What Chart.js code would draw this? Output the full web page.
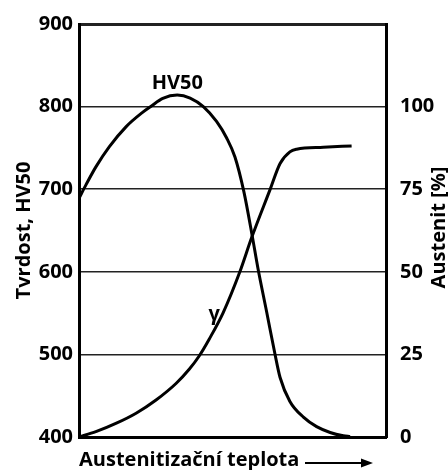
<!DOCTYPE html>
<html>
<head>
<meta charset="utf-8">
<script src="https://cdn.jsdelivr.net/npm/chart.js@4/dist/chart.umd.min.js"></script>
<style>
  html, body { margin: 0; padding: 0; background: #fff; }
  #wrap { width: 448px; height: 470px; }
</style>
</head>
<body>
<div id="wrap"><canvas id="chart" width="448" height="470"></canvas></div>
<script>
// hardness curve (left axis) - x is relative temperature 0..100
const hvX = [0, 2.3, 5.5, 9.9, 15.3, 20.7, 23.5, 27.3, 32, 36.2, 40.5, 44.8, 48.1, 50.8, 53.7, 56.4, 58.3, 61.1, 63.8, 65.5, 68.7, 73.1, 77.4, 81.8, 86.1, 88.3];
const hvY = [689, 705.5, 727, 751.5, 775.5, 793, 800.5, 810, 814, 810.4, 800, 782, 762, 739, 697, 644, 604, 552, 501, 472, 443, 424, 412.5, 405.5, 401.5, 400.5];

// austenite curve (right axis, %)
const gX = [0, 5.5, 12, 18.6, 25.1, 31.6, 35.9, 39.2, 42.4, 46.9, 52.4, 56.3, 62.2, 65.5, 68.7, 70.9, 79.6, 88.8];
const gY = [0, 1.6, 4.1, 7.2, 11.2, 16.2, 20.5, 24.6, 29.6, 37.5, 50, 60.5, 74.8, 82.8, 86.3, 87.1, 87.7, 88.1];

const leftTicks = [400, 500, 600, 700, 800, 900];
const rightTicks = [0, 25, 50, 75, 100];

const FONT = "'Open Sans', sans-serif";
const SIZE = 20;

// curve labels, right axis title (reads upwards) and the arrow after the x title
const extras = {
  id: 'extras',
  afterDraw(chart) {
    const c = chart.ctx;
    const xs = chart.scales.x, yl = chart.scales.y, yr = chart.scales.y2;
    c.save();
    c.fillStyle = '#000';
    c.font = 'bold ' + SIZE + 'px ' + FONT;
    c.textAlign = 'center';
    c.textBaseline = 'middle';
    c.fillText('HV50', xs.getPixelForValue(32), yl.getPixelForValue(828));
    c.fillText('γ', xs.getPixelForValue(44), yr.getPixelForValue(37));

    c.save();
    c.translate(439, (chart.chartArea.top + chart.chartArea.bottom) / 2 - 3);
    c.rotate(-Math.PI / 2);
    c.fillText('Austenit [%]', 0, 0);
    c.restore();

    // arrow
    const y = 463;
    c.strokeStyle = '#000';
    c.lineWidth = 2;
    c.beginPath();
    c.moveTo(305, y);
    c.lineTo(366, y);
    c.stroke();
    c.beginPath();
    c.moveTo(373, y);
    c.lineTo(361, y - 4.5);
    c.lineTo(361, y + 4.5);
    c.closePath();
    c.fill();
    c.restore();
  }
};

new Chart(document.getElementById('chart'), {
  type: 'line',
  data: {
    datasets: [{
      label: 'HV50',
      data: hvX.map((x, i) => ({ x: x, y: hvY[i] })),
      yAxisID: 'y',
      borderColor: '#000',
      borderWidth: 3,
      pointRadius: 0,
      cubicInterpolationMode: 'monotone'
    }, {
      label: 'γ',
      data: gX.map((x, i) => ({ x: x, y: gY[i] })),
      yAxisID: 'y2',
      borderColor: '#000',
      borderWidth: 3,
      pointRadius: 0,
      cubicInterpolationMode: 'monotone'
    }]
  },
  options: {
    responsive: false,
    animation: false,
    layout: { padding: { top: 24, left: 0, right: 0, bottom: 0 } },
    plugins: {
      legend: { display: false },
      tooltip: { enabled: false }
    },
    scales: {
      x: {
        type: 'linear',
        min: 0,
        max: 100,
        grid: { display: false },
        ticks: { display: false },
        border: { color: '#000', width: 3 },
        title: {
          display: true,
          text: 'Austenitizační teplota',
          align: 'start',
          color: '#000',
          font: { family: FONT, size: SIZE, weight: 'bold' },
          padding: { top: 0, bottom: -2 }
        },
        afterFit: s => { s.height = 33; }
      },
      y: {
        position: 'left',
        min: 400,
        max: 900,
        afterBuildTicks: s => { s.ticks = leftTicks.map(v => ({ value: v })); },
        grid: {
          color: '#222',
          lineWidth: ctx => (ctx.tick && ctx.tick.value === 900) ? 3 : 1.5,
          drawTicks: false
        },
        border: { color: '#000', width: 3 },
        ticks: {
          color: '#000',
          padding: 6,
          font: { family: FONT, size: SIZE, weight: 'bold' }
        },
        title: {
          display: true,
          text: 'Tvrdost, HV50',
          color: '#000',
          font: { family: FONT, size: SIZE, weight: 'bold' },
          padding: { top: 12, bottom: 0 }
        },
        afterFit: s => { s.width = 79; }
      },
      y2: {
        position: 'right',
        min: 0,
        max: 125,
        afterBuildTicks: s => { s.ticks = rightTicks.map(v => ({ value: v })); },
        grid: { display: false },
        border: { color: '#000', width: 3 },
        ticks: {
          color: '#000',
          padding: 6,
          font: { family: FONT, size: SIZE, weight: 'bold' }
        },
        afterFit: s => { s.width = 62; }
      }
    }
  },
  plugins: [extras]
});
</script>
</body>
</html>
